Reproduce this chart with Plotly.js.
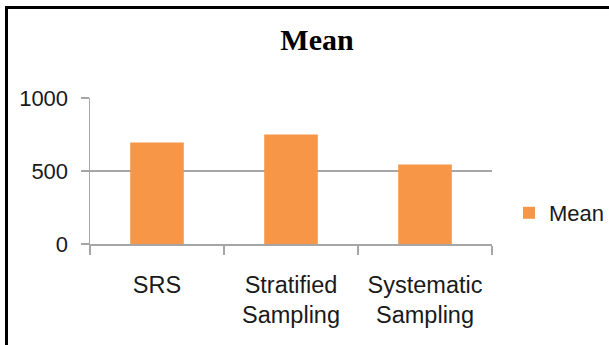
<!DOCTYPE html>
<html>
<head>
<meta charset="utf-8">
<script src="https://cdn.plot.ly/plotly-3.0.1.min.js"></script>
<style>
  html, body { margin: 0; padding: 0; background: #fff; }
  #wrap { position: relative; width: 609px; height: 345px; overflow: hidden; }
  #frame { position: absolute; left: 5px; top: 6px; width: 700px; height: 400px;
           border-left: 3px solid #000; border-top: 3px solid #000; pointer-events: none; z-index: 5; }
  #chart { position: absolute; left: 0; top: 0; width: 609px; height: 345px; }
</style>
</head>
<body>
<div id="wrap">
  <div id="chart"></div>
  <div id="frame"></div>
</div>
<script>
const categories = ["SRS", "Stratified<br>Sampling", "Systematic<br>Sampling"];
const meanValues = [695, 750, 545];
const seriesName = "Mean";
const yTickValues = [0, 500, 1000];
const yTickLabels = ["0", "500", "1000"];

const gridColor = "#a6a6a6";
const sansFont = "Liberation Sans, Arial, sans-serif";

const trace = {
  type: "bar",
  x: categories,
  y: meanValues,
  name: seriesName,
  marker: { color: "#F79646", line: { width: 0 } },
  hoverinfo: "skip"
};

const layout = {
  width: 609,
  height: 345,
  paper_bgcolor: "#ffffff",
  plot_bgcolor: "#ffffff",
  margin: { l: 90, r: 117, t: 98, b: 101, pad: 0, autoexpand: false },
  bargap: 0.6,
  showlegend: true,
  title: {
    text: "<b>Mean</b>",
    font: { family: "Liberation Serif, Times New Roman, serif", size: 30, color: "#000" },
    x: 317 / 609,
    xanchor: "center",
    xref: "container",
    y: 1 - 39 / 345,
    yanchor: "middle",
    yref: "container"
  },
  legend: {
    x: 509 / 609,
    xref: "container",
    xanchor: "left",
    y: (345 - 213) / 345,
    yref: "container",
    yanchor: "middle",
    font: { family: sansFont, size: 22, color: "#1a1a1a" },
    itemwidth: 30,
    bgcolor: "rgba(0,0,0,0)"
  },
  xaxis: {
    type: "category",
    tickson: "boundaries",
    ticks: "outside",
    ticklen: 9,
    tickwidth: 1.5,
    tickcolor: gridColor,
    showline: true,
    linecolor: gridColor,
    linewidth: 1.5,
    showgrid: false,
    automargin: false,
    ticklabelstandoff: 19,
    tickfont: { family: sansFont, size: 23.5, color: "#1a1a1a" },
    fixedrange: true
  },
  yaxis: {
    range: [0, 1000],
    tickvals: yTickValues,
    ticktext: yTickLabels,
    ticks: "outside",
    ticklen: 8,
    tickwidth: 1.5,
    tickcolor: gridColor,
    showline: true,
    linecolor: gridColor,
    linewidth: 1.5,
    showgrid: true,
    gridcolor: gridColor,
    gridwidth: 1.5,
    zeroline: false,
    automargin: false,
    ticklabelstandoff: 8,
    tickfont: { family: sansFont, size: 22, color: "#1a1a1a" },
    fixedrange: true
  }
};

Plotly.newPlot("chart", [trace], layout, { displayModeBar: false, staticPlot: true });
</script>
</body>
</html>
